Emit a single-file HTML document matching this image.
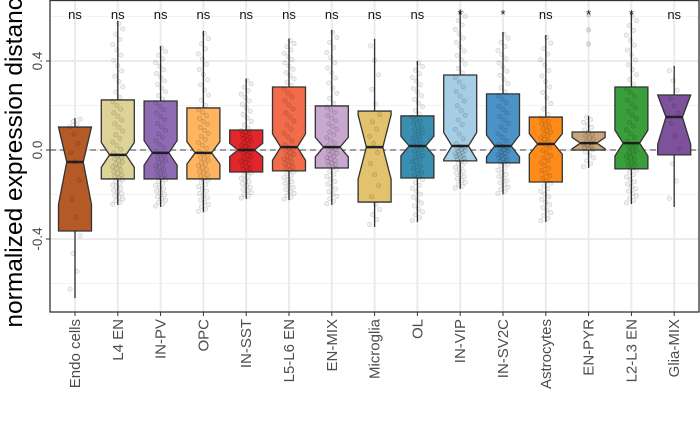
<!DOCTYPE html>
<html><head><meta charset="utf-8"><style>
body{margin:0;background:#fff;}
svg{display:block;font-family:"Liberation Sans","DejaVu Sans",sans-serif;}
</style></head><body>
<svg id="chart" width="700" height="432" viewBox="0 0 700 432"></svg>
<script>
const categories=["Endo cells","L4 EN","IN-PV","OPC","IN-SST","L5-L6 EN","EN-MIX","Microglia","OL","IN-VIP","IN-SV2C","Astrocytes","EN-PYR","L2-L3 EN","Glia-MIX"];
const q1=[-0.364,-0.13,-0.13,-0.13,-0.099,-0.094,-0.081,-0.234,-0.126,-0.049,-0.058,-0.144,0.0,-0.085,-0.022];
const med=[-0.054,-0.022,-0.013,-0.013,0.0,0.013,0.013,0.013,0.018,0.018,0.018,0.027,0.031,0.031,0.148];
const q3=[0.103,0.225,0.22,0.189,0.09,0.283,0.198,0.175,0.153,0.337,0.252,0.148,0.081,0.283,0.247];
const wlo=[-0.665,-0.247,-0.256,-0.28,-0.22,-0.225,-0.247,-0.346,-0.324,-0.175,-0.2,-0.324,-0.081,-0.243,-0.256];
const whi=[0.144,0.58,0.467,0.535,0.32,0.5,0.54,0.5,0.4,0.63,0.53,0.517,0.153,0.615,0.378];
const nObs=[15,100,100,100,100,100,100,20,100,100,100,100,25,100,12];
const outliers=[[],[],[],[],[],[],[],[],[],[],[],[],[0.607,0.539,0.476],[],[]];
const signif=["ns","ns","ns","ns","ns","ns","ns","ns","ns","*","*","ns","*","*","ns"];
const colors=["#b35a26","#ddd397","#8e6bb3","#ffb55f","#e3262a","#f26b4a","#c9a8cf","#e3c26e","#3a8fb0","#a5cde3","#4a93c6","#ff8c1a","#c8a57a","#3a9e3a","#7d519c"];
const yMajor=[-0.4,0.0,0.4];
const yMinor=[-0.6,-0.2,0.2,0.6];

const NS="http://www.w3.org/2000/svg";
const svg=document.getElementById('chart');
const L=50,R=699,T=0,B=312;
const yMin=-0.728,yMax=0.674;
const y=v=>B-(v-yMin)/(yMax-yMin)*(B-T);
const x0=75,step=42.8;
const x=i=>x0+i*step;
function mk(tag,attrs,parent){const e=document.createElementNS(NS,tag);for(const k in attrs)e.setAttribute(k,attrs[k]);(parent||svg).appendChild(e);return e;}

const grid=mk('g',{});


yMinor.forEach(v=>mk('line',{x1:L,x2:R,y1:y(v),y2:y(v),stroke:'#f2f2f2','stroke-width':1},grid));
yMajor.forEach(v=>mk('line',{x1:L,x2:R,y1:y(v),y2:y(v),stroke:'#ebebeb','stroke-width':2},grid));
categories.forEach((c,i)=>mk('line',{x1:x(i),x2:x(i),y1:T,y2:B,stroke:'#ebebeb','stroke-width':2},grid));

const ref=mk('line',{x1:L,x2:R,y1:y(0),y2:y(0),stroke:'#888','stroke-width':1.5,'stroke-dasharray':'6,4'});



const hw=16.5;
categories.forEach((c,i)=>{
  const g=mk('g',{});
  
  
  const cx=x(i);
  mk('line',{x1:cx,x2:cx,y1:y(wlo[i]),y2:y(whi[i]),stroke:'#333','stroke-width':1.3},g);
  const iqr=q3[i]-q1[i];
  const nh=1.58*iqr/Math.sqrt(nObs[i]);
  const nt=Math.min(q3[i],med[i]+nh), nb=Math.max(q1[i],med[i]-nh);
  const nw=hw/2;
  const d=`M${cx-hw},${y(q3[i])} L${cx+hw},${y(q3[i])} L${cx+hw},${y(nt)} L${cx+nw},${y(med[i])} L${cx+hw},${y(nb)} L${cx+hw},${y(q1[i])} L${cx-hw},${y(q1[i])} L${cx-hw},${y(nb)} L${cx-nw},${y(med[i])} L${cx-hw},${y(nt)} Z`;
  mk('path',{d:d,fill:colors[i],stroke:'#333','stroke-width':1.3},g);
  mk('line',{x1:cx-nw,x2:cx+nw,y1:y(med[i]),y2:y(med[i]),stroke:'#222','stroke-width':2.5},g);
  const np=Math.min(nObs[i],60);
  const pts=[wlo[i],q1[i],med[i],q3[i],whi[i]];
  for(let k=0;k<np;k++){
    const p=(k+0.5)/np*4, s=Math.floor(p), f=p-s;
    const v=pts[s]+(pts[Math.min(s+1,4)]-pts[s])*f;
    const off=((k*7)%11-5)/5*5;
    mk('circle',{cx:cx+off,cy:y(v),r:2.2,fill:'rgba(0,0,0,0.06)',stroke:'rgba(0,0,0,0.18)','stroke-width':0.6},g);
  }
  outliers[i].forEach(v=>mk('circle',{cx:cx,cy:y(v),r:2.2,fill:'rgba(0,0,0,0.1)',stroke:'rgba(0,0,0,0.2)','stroke-width':0.6},g));
  const t=mk('text',{x:cx,y:19,'text-anchor':'middle','font-size':13,fill:'#111'},g);
  t.textContent=signif[i];
});

mk('rect',{x:L,y:T+0.5,width:R-L,height:B-T-0.5,fill:'none',stroke:'#333','stroke-width':1.3});

const ax=mk('g',{});


yMajor.forEach(v=>{
  mk('line',{x1:L-4,x2:L,y1:y(v),y2:y(v),stroke:'#333'},ax);
  const t=mk('text',{x:0,y:0,transform:`translate(${L-8},${y(v)}) rotate(-90)`,'text-anchor':'middle','font-size':13.5,fill:'#4d4d4d'},ax);
  t.textContent=v.toFixed(1);
});
const xa=mk('g',{});


categories.forEach((c,i)=>{
  mk('line',{x1:x(i),x2:x(i),y1:B,y2:B+4,stroke:'#333'},xa);
  const t=mk('text',{x:0,y:0,transform:`translate(${x(i)+5},${B+7}) rotate(-90)`,'text-anchor':'end','font-size':15,fill:'#4d4d4d'},xa);
  t.textContent=c;
});
const yt=mk('text',{x:0,y:0,transform:`translate(22,156) rotate(-90)`,'text-anchor':'middle','font-size':24.5,fill:'#000'});


yt.textContent='normalized expression distance';
</script>
</body></html>
